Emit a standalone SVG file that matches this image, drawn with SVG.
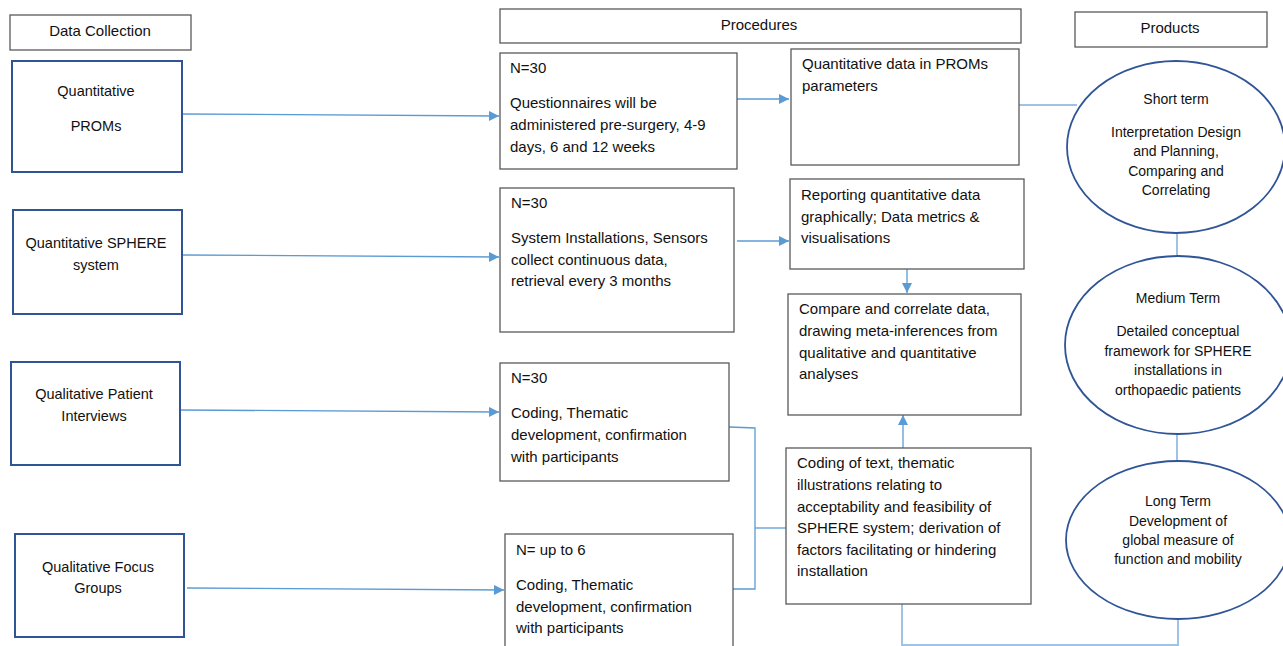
<svg xmlns="http://www.w3.org/2000/svg" width="1283" height="646" viewBox="0 0 1283 646">
<style>
text{font-family:"Liberation Sans",Arial,sans-serif;font-size:15px;fill:#111}
.c{text-anchor:middle}
.s{font-size:14.5px}
.e{font-size:14px;text-anchor:middle}
.hdr{fill:#fff;stroke:#595959;stroke-width:1.3}
.src{fill:#fff;stroke:#2f5597;stroke-width:2}
.box{fill:#fff;stroke:#595959;stroke-width:1.3}
.ell{fill:#fff;stroke:#2f5597;stroke-width:1.8}
.arr{fill:none;stroke:#5b9bd5;stroke-width:1.3;marker-end:url(#ah)}
.ln{fill:none;stroke:#5b9bd5;stroke-width:1.3}
.lt{fill:none;stroke:#9dc3e6;stroke-width:2}
</style>
<defs>
<marker id="ah" markerUnits="userSpaceOnUse" markerWidth="10" markerHeight="10" viewBox="0 0 10 10" refX="10" refY="5" orient="auto">
<path d="M0,0 L10,5 L0,10 z" fill="#5b9bd5"/>
</marker>
</defs>
<rect width="1283" height="646" fill="#fff"/>

<g id="connectors">
<path class="arr" d="M182,114 L499,116"/>
<path class="arr" d="M182,255 L499,257"/>
<path class="arr" d="M180,410 L499,412"/>
<path class="arr" d="M187,588 L504,590"/>
<path class="arr" d="M737,99 L789,99"/>
<path class="arr" d="M737,241 L789,241"/>
<path class="arr" d="M907,269 L907,293"/>
<path class="arr" d="M903,448 L903,415"/>
<path class="ln" d="M729,427 L755,428 L755,589 L733,589"/>
<path class="ln" d="M755,528 L786,528"/>
<path class="lt" d="M1019,105 L1077,105"/>
<path class="lt" d="M1177,233 L1177,256"/>
<path class="lt" d="M1177,434 L1177,460"/>
<path class="lt" d="M1178,619 L1178,646"/>
<path class="lt" d="M902,604 L902,645 L1178,645"/>
</g>

<g id="hdr-data"><rect class="hdr" x="10" y="15" width="181" height="35"/><text class="c" x="100" y="36">Data Collection</text></g>
<g id="hdr-proc"><rect class="hdr" x="500" y="9" width="521" height="34"/><text class="c" x="759" y="30">Procedures</text></g>
<g id="hdr-prod"><rect class="hdr" x="1075" y="12" width="192" height="35"/><text class="c" x="1170" y="33">Products</text></g>

<g id="src-proms"><rect class="src" x="12" y="61" width="170" height="111"/><text class="c s" x="96" y="96">Quantitative</text><text class="c s" x="96" y="131">PROMs</text></g>
<g id="src-sphere"><rect class="src" x="13" y="210" width="169" height="104"/><text class="c s" x="96" y="248">Quantitative SPHERE</text><text class="c s" x="96" y="270">system</text></g>
<g id="src-interviews"><rect class="src" x="11" y="362" width="169" height="103"/><text class="c s" x="94" y="399">Qualitative Patient</text><text class="c s" x="94" y="421">Interviews</text></g>
<g id="src-focus"><rect class="src" x="15" y="534" width="169" height="103"/><text class="c s" x="98" y="572">Qualitative Focus</text><text class="c s" x="98" y="593">Groups</text></g>

<g id="p-proms"><rect class="box" x="500" y="53" width="237" height="116"/>
<text x="510" y="73">N=30</text><text x="510" y="108">Questionnaires will be</text><text x="510" y="130">administered pre-surgery, 4-9</text><text x="510" y="152">days, 6 and 12 weeks</text></g>
<g id="p-sphere"><rect class="box" x="500" y="188" width="234" height="144"/>
<text x="511" y="208">N=30</text><text x="511" y="243">System Installations, Sensors</text><text x="511" y="265">collect continuous data,</text><text x="511" y="286">retrieval every 3 months</text></g>
<g id="p-interviews"><rect class="box" x="500" y="363" width="229" height="118"/>
<text x="511" y="383">N=30</text><text x="511" y="418">Coding, Thematic</text><text x="511" y="440">development, confirmation</text><text x="511" y="462">with participants</text></g>
<g id="p-focus"><rect class="box" x="505" y="534" width="228" height="120"/>
<text x="516" y="555">N= up to 6</text><text x="516" y="590">Coding, Thematic</text><text x="516" y="612">development, confirmation</text><text x="516" y="633">with participants</text></g>

<g id="r-proms"><rect class="box" x="791" y="49" width="228" height="116"/>
<text x="802" y="69">Quantitative data in PROMs</text><text x="802" y="91">parameters</text></g>
<g id="r-report"><rect class="box" x="790" y="179" width="234" height="90"/>
<text x="801" y="200">Reporting quantitative data</text><text x="801" y="222">graphically; Data metrics &amp;</text><text x="801" y="243">visualisations</text></g>
<g id="r-compare"><rect class="box" x="788" y="294" width="233" height="121"/>
<text x="799" y="314">Compare and correlate data,</text><text x="799" y="336">drawing meta-inferences from</text><text x="799" y="358">qualitative and quantitative</text><text x="799" y="379">analyses</text></g>
<g id="r-coding"><rect class="box" x="786" y="448" width="245" height="156"/>
<text x="797" y="468">Coding of text, thematic</text><text x="797" y="490">illustrations relating to</text><text x="797" y="512">acceptability and feasibility of</text><text x="797" y="533">SPHERE system; derivation of</text><text x="797" y="555">factors facilitating or hindering</text><text x="797" y="576">installation</text></g>

<g id="short"><ellipse class="ell" cx="1176" cy="147" rx="109" ry="86"/>
<text class="e" x="1176" y="104">Short term</text><text class="e" x="1176" y="137">Interpretation Design</text><text class="e" x="1176" y="156">and Planning,</text><text class="e" x="1176" y="176">Comparing and</text><text class="e" x="1176" y="195">Correlating</text></g>
<g id="medium"><ellipse class="ell" cx="1178" cy="345" rx="113" ry="89"/>
<text class="e" x="1178" y="303">Medium Term</text><text class="e" x="1178" y="336">Detailed conceptual</text><text class="e" x="1178" y="356">framework for SPHERE</text><text class="e" x="1178" y="375">installations in</text><text class="e" x="1178" y="395">orthopaedic patients</text></g>
<g id="long"><ellipse class="ell" cx="1178" cy="540" rx="112" ry="79"/>
<text class="e" x="1178" y="506">Long Term</text><text class="e" x="1178" y="526">Development of</text><text class="e" x="1178" y="545">global measure of</text><text class="e" x="1178" y="564">function and mobility</text></g>
</svg>
